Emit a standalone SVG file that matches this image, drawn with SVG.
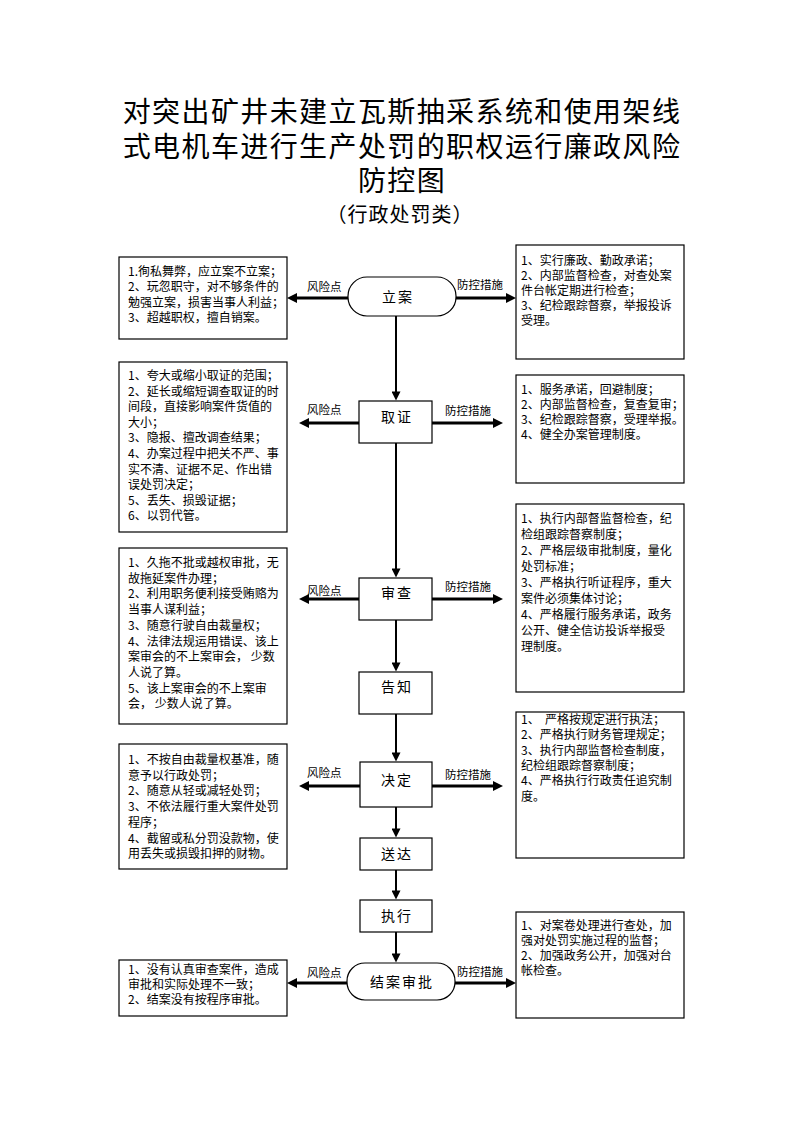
<svg xmlns="http://www.w3.org/2000/svg" width="794" height="1123" viewBox="0 0 794 1123">
<style>
.title{font-family:"Noto Sans CJK SC","Liberation Sans",sans-serif;font-size:28px;fill:#000;text-anchor:middle;letter-spacing:1.4px}
.sub{font-family:"Noto Sans CJK SC","Liberation Sans",sans-serif;font-size:20px;fill:#000;text-anchor:middle;letter-spacing:1px}
.box{fill:#fff;stroke:#000;stroke-width:1.2}
.node{fill:#fff;stroke:#000;stroke-width:1.2}
.nt{font-family:"Noto Sans CJK SC","Liberation Sans",sans-serif;font-size:14px;fill:#000;text-anchor:middle;letter-spacing:2px}
.bt{font-family:"Noto Sans CJK SC","Liberation Sans",sans-serif;font-size:12px;fill:#000}
.lb{font-family:"Noto Sans CJK SC","Liberation Sans",sans-serif;font-size:11.5px;fill:#000}
.h{stroke:#000;stroke-width:3;fill:none}
.v{stroke:#000;stroke-width:2;fill:none}
</style>
<defs>
<marker id="ah" viewBox="0 0 10 10" refX="5" refY="5" markerWidth="11" markerHeight="10" markerUnits="userSpaceOnUse" orient="auto"><path d="M0,0 L10,5 L0,10 z" fill="#000"/></marker>
<marker id="av" viewBox="0 0 10 10" refX="5" refY="5" markerWidth="10" markerHeight="9" markerUnits="userSpaceOnUse" orient="auto"><path d="M0,0 L10,5 L0,10 z" fill="#000"/></marker>
</defs>
<rect width="794" height="1123" fill="#fff"/>
<g id="title">
<text class="title"><tspan x="402" y="122">对突出矿井未建立瓦斯抽采系统和使用架线</tspan><tspan x="402" y="157">式电机车进行生产处罚的职权运行廉政风险</tspan><tspan x="402" y="191">防控图</tspan></text>
<text class="sub" x="400" y="222">（行政处罚类）</text>
</g>
<g id="connectors">
<line class="v" x1="396" y1="316" x2="396" y2="396" marker-end="url(#av)"/>
<line class="v" x1="396" y1="443" x2="396" y2="573" marker-end="url(#av)"/>
<line class="v" x1="396" y1="620" x2="396" y2="667" marker-end="url(#av)"/>
<line class="v" x1="396" y1="714" x2="396" y2="757" marker-end="url(#av)"/>
<line class="v" x1="396" y1="807" x2="396" y2="833" marker-end="url(#av)"/>
<line class="v" x1="396" y1="870" x2="396" y2="895" marker-end="url(#av)"/>
<line class="v" x1="396" y1="932" x2="396" y2="958" marker-end="url(#av)"/>
<line class="h" x1="348" y1="298" x2="292" y2="298" marker-end="url(#ah)"/>
<line class="h" x1="456" y1="298" x2="511" y2="298" marker-end="url(#ah)"/>
<line class="h" x1="359" y1="423" x2="304" y2="423" marker-end="url(#ah)"/>
<line class="h" x1="432" y1="423" x2="498" y2="423" marker-end="url(#ah)"/>
<line class="h" x1="359" y1="599" x2="304" y2="599" marker-end="url(#ah)"/>
<line class="h" x1="432" y1="599" x2="498" y2="599" marker-end="url(#ah)"/>
<line class="h" x1="360" y1="786" x2="304" y2="786" marker-end="url(#ah)"/>
<line class="h" x1="432" y1="786" x2="498" y2="786" marker-end="url(#ah)"/>
<line class="h" x1="347" y1="983" x2="292" y2="983" marker-end="url(#ah)"/>
<line class="h" x1="455" y1="983" x2="511" y2="983" marker-end="url(#ah)"/>
<text class="lb" x="307" y="291">风险点</text>
<text class="lb" x="457" y="289">防控措施</text>
<text class="lb" x="307" y="414">风险点</text>
<text class="lb" x="445" y="415">防控措施</text>
<text class="lb" x="307" y="595">风险点</text>
<text class="lb" x="445" y="591">防控措施</text>
<text class="lb" x="307" y="777">风险点</text>
<text class="lb" x="445" y="779">防控措施</text>
<text class="lb" x="307" y="977">风险点</text>
<text class="lb" x="457" y="976">防控措施</text>
</g>
<g id="n-lian">
<rect class="node" x="348" y="277" width="108" height="39" rx="19" ry="19"/>
<text class="nt" x="398" y="302">立案</text>
</g>
<g id="n-quzheng">
<rect class="node" x="359" y="401" width="73" height="42"/>
<text class="nt" x="397" y="422">取证</text>
</g>
<g id="n-shencha">
<rect class="node" x="359" y="578" width="73" height="42"/>
<text class="nt" x="397" y="598">审查</text>
</g>
<g id="n-gaozhi">
<rect class="node" x="359" y="672" width="73" height="42"/>
<text class="nt" x="397" y="692">告知</text>
</g>
<g id="n-jueding">
<rect class="node" x="360" y="762" width="72" height="45"/>
<text class="nt" x="397" y="785">决定</text>
</g>
<g id="n-songda">
<rect class="node" x="360" y="838" width="72" height="32"/>
<text class="nt" x="397" y="859">送达</text>
</g>
<g id="n-zhixing">
<rect class="node" x="360" y="900" width="72" height="32"/>
<text class="nt" x="397" y="921">执行</text>
</g>
<g id="n-jiean">
<rect class="node" x="347" y="963" width="108" height="37" rx="18" ry="18"/>
<text class="nt" x="402" y="987">结案审批</text>
</g>
<g id="risk-1">
<rect class="box" x="119" y="257" width="168" height="82"/>
<text class="bt"><tspan x="128" y="276">1.徇私舞弊，应立案不立案；</tspan><tspan x="128" y="291.3">2、玩忽职守，对不够条件的</tspan><tspan x="128" y="306.6">勉强立案，损害当事人利益；</tspan><tspan x="128" y="321.9">3、超越职权，擅自销案。</tspan></text>
</g>
<g id="risk-2">
<rect class="box" x="119" y="362" width="168" height="170"/>
<text class="bt"><tspan x="128" y="380">1、夸大或缩小取证的范围；</tspan><tspan x="128" y="395.6">2、延长或缩短调查取证的时</tspan><tspan x="128" y="411.2">间段，直接影响案件货值的</tspan><tspan x="128" y="426.8">大小；</tspan><tspan x="128" y="442.4">3、隐报、擅改调查结果；</tspan><tspan x="128" y="458">4、办案过程中把关不严、事</tspan><tspan x="128" y="473.6">实不清、证据不足、作出错</tspan><tspan x="128" y="489.2">误处罚决定；</tspan><tspan x="128" y="504.8">5、丢失、损毁证据；</tspan><tspan x="128" y="520.4">6、以罚代管。</tspan></text>
</g>
<g id="risk-3">
<rect class="box" x="119" y="548" width="168" height="176"/>
<text class="bt" xml:space="preserve"><tspan x="128" y="567">1、久拖不批或越权审批，无</tspan><tspan x="128" y="582.7">故拖延案件办理；</tspan><tspan x="128" y="598.4">2、利用职务便利接受贿赂为</tspan><tspan x="128" y="614.1">当事人谋利益；</tspan><tspan x="128" y="629.8">3、随意行驶自由裁量权；</tspan><tspan x="128" y="645.5">4、法律法规运用错误、该上</tspan><tspan x="128" y="661.2">案审会的不上案审会， 少数</tspan><tspan x="128" y="676.9">人说了算。</tspan><tspan x="128" y="692.6">5、该上案审会的不上案审</tspan><tspan x="128" y="708.3">会， 少数人说了算。</tspan></text>
</g>
<g id="risk-4">
<rect class="box" x="119" y="744" width="168" height="125"/>
<text class="bt"><tspan x="128" y="764">1、不按自由裁量权基准，随</tspan><tspan x="128" y="779.7">意予以行政处罚；</tspan><tspan x="128" y="795.4">2、随意从轻或减轻处罚；</tspan><tspan x="128" y="811.1">3、不依法履行重大案件处罚</tspan><tspan x="128" y="826.8">程序；</tspan><tspan x="128" y="842.5">4、截留或私分罚没款物，使</tspan><tspan x="128" y="858.2">用丢失或损毁扣押的财物。</tspan></text>
</g>
<g id="risk-5">
<rect class="box" x="119" y="960" width="168" height="56"/>
<text class="bt"><tspan x="128" y="973.5">1、没有认真审查案件，造成</tspan><tspan x="128" y="988.5">审批和实际处理不一致；</tspan><tspan x="128" y="1003.5">2、结案没有按程序审批。</tspan></text>
</g>
<g id="ctrl-1">
<rect class="box" x="516" y="245" width="168" height="114"/>
<text class="bt"><tspan x="521" y="265">1、实行廉政、勤政承诺；</tspan><tspan x="521" y="280">2、内部监督检查，对查处案</tspan><tspan x="521" y="295">件台帐定期进行检查；</tspan><tspan x="521" y="310">3、纪检跟踪督察，举报投诉</tspan><tspan x="521" y="325">受理。</tspan></text>
</g>
<g id="ctrl-2">
<rect class="box" x="516" y="375" width="168" height="108"/>
<text class="bt"><tspan x="521" y="394">1、服务承诺，回避制度；</tspan><tspan x="521" y="409">2、内部监督检查，复查复审；</tspan><tspan x="521" y="424">3、纪检跟踪督察，受理举报。</tspan><tspan x="521" y="439">4、健全办案管理制度。</tspan></text>
</g>
<g id="ctrl-3">
<rect class="box" x="516" y="504" width="168" height="188"/>
<text class="bt"><tspan x="521" y="523">1、执行内部督监督检查，纪</tspan><tspan x="521" y="539">检组跟踪督察制度；</tspan><tspan x="521" y="555">2、严格层级审批制度，量化</tspan><tspan x="521" y="571">处罚标准；</tspan><tspan x="521" y="587">3、严格执行听证程序，重大</tspan><tspan x="521" y="603">案件必须集体讨论；</tspan><tspan x="521" y="619">4、严格履行服务承诺，政务</tspan><tspan x="521" y="635">公开、健全信访投诉举报受</tspan><tspan x="521" y="651">理制度。</tspan></text>
</g>
<g id="ctrl-4">
<rect class="box" x="516" y="712" width="168" height="146"/>
<text class="bt" xml:space="preserve"><tspan x="521" y="724">1、  严格按规定进行执法；</tspan><tspan x="521" y="739.3">2、严格执行财务管理规定；</tspan><tspan x="521" y="754.6">3、执行内部监督检查制度，</tspan><tspan x="521" y="769.9">纪检组跟踪督察制度；</tspan><tspan x="521" y="785.2">4、严格执行行政责任追究制</tspan><tspan x="521" y="800.5">度。</tspan></text>
</g>
<g id="ctrl-5">
<rect class="box" x="516" y="912" width="168" height="106"/>
<text class="bt"><tspan x="521" y="930">1、对案卷处理进行查处，加</tspan><tspan x="521" y="945">强对处罚实施过程的监督；</tspan><tspan x="521" y="960">2、加强政务公开，加强对台</tspan><tspan x="521" y="975">帐检查。</tspan></text>
</g>
</svg>
